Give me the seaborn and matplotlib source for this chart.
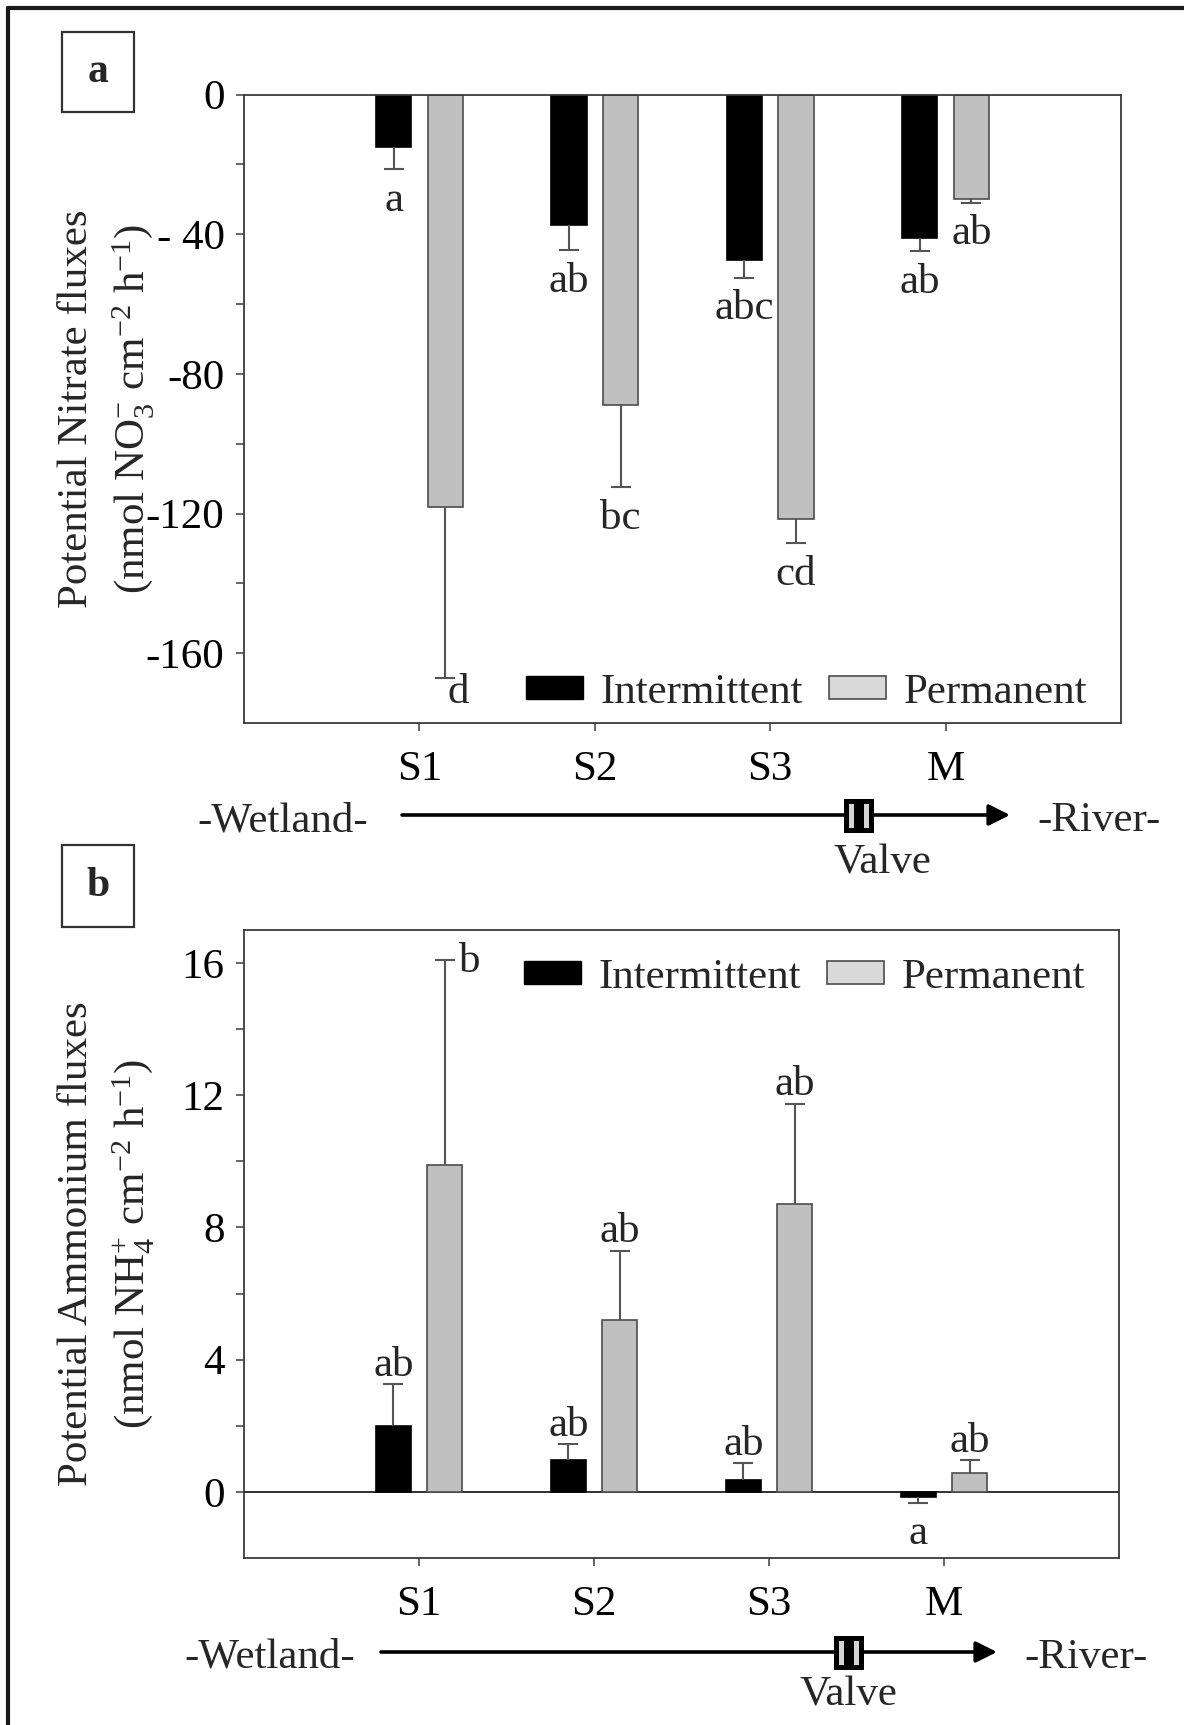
import numpy as np
import pandas as pd
import matplotlib
matplotlib.use('Agg')
import matplotlib.pyplot as plt
import seaborn as sns
from matplotlib.patches import Rectangle, Patch, FancyArrowPatch
from matplotlib.lines import Line2D

# ---------------- data ----------------
sites = ['S1', 'S2', 'S3', 'M']
statuses = ['Intermittent', 'Permanent']

nitrate_int = [-15.0, -37.5, -47.5, -41.0]
nitrate_int_err = [6.3, 7.0, 5.0, 3.8]
nitrate_perm = [-118.0, -89.0, -121.5, -30.0]
nitrate_perm_err = [49.0, 23.5, 7.0, 1.0]
nitrate_int_letters = ['a', 'ab', 'abc', 'ab']
nitrate_perm_letters = ['d', 'bc', 'cd', 'ab']

ammonium_int = [2.0, 0.95, 0.37, -0.15]
ammonium_int_err = [1.25, 0.5, 0.5, 0.18]
ammonium_perm = [9.9, 5.2, 8.7, 0.56]
ammonium_perm_err = [6.2, 2.1, 3.05, 0.4]
ammonium_int_letters = ['ab', 'ab', 'ab', 'a']
ammonium_perm_letters = ['b', 'ab', 'ab', 'ab']

nitrate_yticks = [0, -40, -80, -120, -160]
nitrate_yticklabels = ['0', '- 40', '-80', '-120', '-160']
nitrate_minor = [-20, -60, -100, -140]
ammonium_yticks = [0, 4, 8, 12, 16]
ammonium_yticklabels = ['0', '4', '8', '12', '16']
ammonium_minor = [2, 6, 10, 14]

# ---------------- style ----------------
sns.set_style('ticks')
plt.rcParams['font.family'] = ['Liberation Serif', 'DejaVu Serif']
plt.rcParams['mathtext.fontset'] = 'custom'
plt.rcParams['mathtext.rm'] = 'Liberation Serif'
plt.rcParams['mathtext.it'] = 'Liberation Serif:italic'
plt.rcParams['mathtext.bf'] = 'Liberation Serif:bold'

FS = 31
GREY = '#c0c0c0'
GREY_EDGE = '#4d4d4d'
LEG_GREY = '#d9d9d9'
AXC = '#3a3a3a'
ERRC = '#555555'

W, H = 1184, 1725
fig = plt.figure(figsize=(W / 100, H / 100), dpi=100)


def fx(px):
    return px / W


def fy(py):
    return 1 - py / H


def draw_panel(ax, iv, ie, pv, pe, il, pl, ylim, yt, ytl, ymin, right_off, legend_loc, legend_anchor):
    df = pd.DataFrame({'site': sites * 2,
                       'status': ['Intermittent'] * 4 + ['Permanent'] * 4,
                       'value': iv + pv})
    sns.barplot(data=df, x='site', y='value', hue='status', order=sites,
                hue_order=statuses, palette={'Intermittent': 'black', 'Permanent': GREY},
                width=0.588, gap=0.32, errorbar=None, legend=False, ax=ax,
                linewidth=1.2, saturation=1)
    patches = list(ax.patches)[:8]
    for i, p in enumerate(patches):
        p.set_edgecolor('black' if i < 4 else GREY_EDGE)
    xs = np.array([p.get_x() + p.get_width() / 2 for p in patches])
    vals = np.array(iv + pv)
    errs = np.array(ie + pe)
    letters = il + pl
    ends = vals + np.sign(vals) * errs
    ax.vlines(xs, vals, ends, color=ERRC, lw=1.5, zorder=3)
    ax.hlines(ends, xs - 0.057, xs + 0.057, color=ERRC, lw=1.5, zorder=3)
    imax = int(np.argmax(np.abs(ends)))
    for i in range(8):
        if i == imax:
            ax.annotate(letters[i], (xs[i], ends[i]), xytext=right_off, textcoords='offset points',
                        ha='left', va='baseline', fontsize=FS)
        elif vals[i] > 0:
            ax.annotate(letters[i], (xs[i], ends[i]), xytext=(0, 6), textcoords='offset points',
                        ha='center', va='baseline', fontsize=FS)
        else:
            ax.annotate(letters[i], (xs[i], ends[i]), xytext=(0, -30), textcoords='offset points',
                        ha='center', va='baseline', fontsize=FS)

    ax.set_xlim(-1, 4)
    ax.set_ylim(*ylim)
    ax.set_yticks(yt, ytl)
    ax.set_yticks(ymin, minor=True)
    ax.set_xlabel('')
    ax.set_ylabel('')
    for s in ax.spines.values():
        s.set_visible(True)
        s.set_color(AXC)
        s.set_linewidth(1.3)
    ax.tick_params(axis='both', which='both', direction='out', length=6, width=1.1,
                   color=AXC, labelsize=FS, labelcolor='black')
    ax.tick_params(axis='x', pad=14, bottom=True, top=False)
    ax.tick_params(axis='y', pad=8, left=True, right=False)

    handles = [Patch(facecolor='black', edgecolor='black', lw=1),
               Patch(facecolor=LEG_GREY, edgecolor=GREY_EDGE, lw=1.2)]
    ax.legend(handles, statuses, loc=legend_loc, bbox_to_anchor=legend_anchor, ncol=2,
              frameon=False, fontsize=FS, handlelength=1.33, handleheight=0.44,
              handletextpad=0.4, columnspacing=0.6, borderpad=0, borderaxespad=0)


# Panel a
ax_a = fig.add_axes([fx(244), fy(723), fx(1121) - fx(244), (723 - 94.5) / H])
draw_panel(ax_a, nitrate_int, nitrate_int_err, nitrate_perm, nitrate_perm_err,
           nitrate_int_letters, nitrate_perm_letters, (-180, 0),
           nitrate_yticks, nitrate_yticklabels, nitrate_minor, (2, -18),
           'lower right', (0.961, 0.018))

# Panel b
ax_b = fig.add_axes([fx(244), fy(1558), fx(1119) - fx(244), (1558 - 930) / H])
draw_panel(ax_b, ammonium_int, ammonium_int_err, ammonium_perm, ammonium_perm_err,
           ammonium_int_letters, ammonium_perm_letters, (-2, 17),
           ammonium_yticks, ammonium_yticklabels, ammonium_minor, (10, -9),
           'upper right', (0.961, 0.955))
ax_b.axhline(0, color='#222222', lw=1.3, zorder=0.5)

# y labels
fig.text(fx(76.5), fy(409), 'Potential Nitrate fluxes', rotation=90, ha='center', va='center', fontsize=FS)
fig.text(fx(133), fy(409), r'(nmol NO$_3^{-}$ cm$^{-2}$ h$^{-1}$)', rotation=90, ha='center', va='center', fontsize=FS)
fig.text(fx(76.5), fy(1244), 'Potential Ammonium fluxes', rotation=90, ha='center', va='center', fontsize=FS)
fig.text(fx(133), fy(1244), r'(nmol NH$_4^{+}$ cm$^{-2}$ h$^{-1}$)', rotation=90, ha='center', va='center', fontsize=FS)

# panel label boxes
for (x0, y0, x1, y1, lab) in [(62, 32, 134, 112, 'a'), (62, 845, 134, 927, 'b')]:
    fig.add_artist(Rectangle((fx(x0), fy(y1)), fx(x1) - fx(x0), (y1 - y0) / H,
                             transform=fig.transFigure, facecolor='white', edgecolor='#333333', lw=1.6))
    fig.text(fx((x0 + x1) / 2), fy((y0 + y1) / 2), lab, ha='center', va='center',
             fontsize=30, fontweight='bold')


# wetland -> river rows
def flow_row(y_arrow, x_start, x_tip, x_wet, x_riv, x_valve, x_valve_txt, y_valve_txt):
    base = y_arrow + 16
    fig.text(fx(x_wet), fy(base), '-Wetland-', ha='center', va='baseline', fontsize=FS)
    fig.text(fx(x_riv), fy(base), '-River-', ha='center', va='baseline', fontsize=FS)
    fig.add_artist(FancyArrowPatch((fx(x_start), fy(y_arrow)), (fx(x_tip), fy(y_arrow)),
                                   transform=fig.transFigure, arrowstyle='-|>', mutation_scale=32,
                                   lw=2.6, color='black', shrinkA=0, shrinkB=0))
    for x0 in (x_valve - 12.5, x_valve + 2.5):
        fig.add_artist(Rectangle((fx(x0), fy(y_arrow + 14.5)), 10 / W, 29 / H,
                                 transform=fig.transFigure, facecolor='#d4d4d4',
                                 edgecolor='black', lw=3.6, zorder=5))
    fig.text(fx(x_valve_txt), fy(y_valve_txt), 'Valve', ha='center', va='baseline', fontsize=FS)


flow_row(815, 402, 1010, 283, 1099, 858, 882, 873)
flow_row(1652, 381, 997, 270, 1086, 848, 848, 1705)

# outer frame (left and top)
fig.add_artist(Line2D([fx(8), fx(8)], [0, fy(8)], transform=fig.transFigure, color='#1a1a1a', lw=3))
fig.add_artist(Line2D([fx(8), 1], [fy(8), fy(8)], transform=fig.transFigure, color='#1a1a1a', lw=3))

fig.savefig('out.png', dpi=100)
